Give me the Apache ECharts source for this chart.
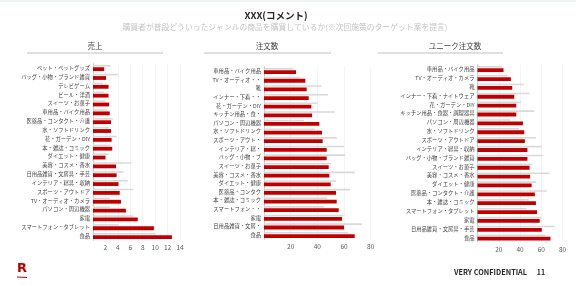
<!DOCTYPE html>
<html><head><meta charset="utf-8">
<script src="https://cdn.jsdelivr.net/npm/echarts@6/dist/echarts.min.js"></script>
<style>html,body{margin:0;padding:0;background:#fff}#c{width:576px;height:285px}</style>
</head><body><div id="c"></div>
<script>
const FONT = '"Noto Sans CJK JP","Noto Sans",sans-serif';

const salesCats = ['ペット・ペットグッズ','バッグ・小物・ブランド雑貨','テレビゲーム','ビール・洋酒','スイーツ・お菓子','車用品・バイク用品','医薬品・コンタクト・介護','水・ソフトドリンク','花・ガーデン・DIY','本・雑誌・コミック','ダイエット・健康','美容・コスメ・香水','日用品雑貨・文房具・手芸','インテリア・寝具・収納','スポーツ・アウトドア','TV・オーディオ・カメラ','パソコン・周辺機器','家電','スマートフォン・タブレット','食品'];
const salesRed  = [1.8, 2.1, 2.5, 2.5, 2.6, 2.7, 2.9, 2.9, 3.0, 3.1, 2.0, 3.7, 3.8, 4.1, 4.3, 4.5, 5.3, 7.2, 9.8, 12.7];
const salesGray = [2.8, 4.0, 1.6, 1.8, 2.0, 2.2, 3.2, 2.5, 3.8, 2.8, 2.5, 6.2, 4.9, 5.6, 6.5, 2.7, 2.7, 6.5, 4.1, 10.0];

const orderCats = ['車用品・バイク用品','TV・オーディオ・・','靴','インナー・下着・・','花・ガーデン・DIY','キッチン用品・食・','パソコン・周辺機器','水・ソフトドリンク','スポーツ・アウト・','インテリア・寝・','バッグ・小物・ブ','スイーツ・お菓子','美容・コスメ・香水','ダイエット・健康','医薬品・コンタク','本・雑誌・コミック','スマートフォン・・','家電','日用品雑貨・文房・','食品'];
const orderRed  = [24, 31, 32, 33.5, 35.5, 36, 41.5, 43.5, 44, 47, 47, 48.5, 49, 50, 54, 54.5, 56, 58.5, 60, 68];
const orderGray = [22, 27, 43, 48, 40, 53, 30, 38, 54.5, 60, 61, 50, 68, 54, 64.5, 47.5, 45, 59.5, 73.5, 63];

const uniqCats = ['車用品・バイク用品','TV・オーディオ・カメラ','靴','インナー・下着・ナイトウェア','花・ガーデン・DIY','キッチン用品・食器・調理器具','パソコン・周辺機器','水・ソフトドリンク','スポーツ・アウトドア','インテリア・寝具・収納','バッグ・小物・ブランド雑貨','スイーツ・お菓子','美容・コスメ・香水','ダイエット・健康','医薬品・コンタクト・介護','本・雑誌・コミック','スマートフォン・タブレット','家電','日用品雑貨・文房具・手芸','食品'];
const uniqRed  = [24.5, 31.4, 32.7, 34.6, 36.5, 36.5, 42.8, 44, 44.6, 47, 47, 49, 49.5, 51, 54, 55, 56, 58.6, 60.5, 68.7];
const uniqGray = [23, 28, 43.4, 49, 41, 53.5, 31, 39, 55, 60.6, 62, 51, 67.8, 55, 65, 48, 46, 60, 73, 64];

const salesTicks = {max: 14, interval: 2};
const orderTicks = {max: 80, interval: 20};

const RED = '#C00000', GRAY = '#D9D9D9';

function xAx(i, t) {
  return {gridIndex: i, type: 'value', min: 0, max: t.max, interval: t.interval,
    axisLine: {show: false}, axisTick: {show: false},
    axisLabel: {showMinLabel: false, fontSize: 6.5, color: '#595959', fontFamily: FONT, margin: 4},
    splitLine: {lineStyle: {color: '#EDEDED', width: 0.6}}};
}
function yAx(i, cats) {
  return {gridIndex: i, type: 'category', data: cats, inverse: true,
    axisLine: {lineStyle: {color: '#BFBFBF', width: 0.8}},
    axisTick: {length: 2, lineStyle: {color: '#BFBFBF', width: 0.6}},
    axisLabel: {fontSize: 5.3, color: '#404040', fontFamily: FONT, margin: 3}};
}
function pair(i, gray, red) {
  return [
    {type: 'bar', xAxisIndex: i, yAxisIndex: i, data: gray, barWidth: 1.6, barGap: '40%',
     itemStyle: {color: GRAY}, silent: true, animation: false},
    {type: 'bar', xAxisIndex: i, yAxisIndex: i, data: red, barWidth: 3.8, barGap: '40%',
     itemStyle: {color: RED}, silent: true, animation: false}
  ];
}

const chart = echarts.init(document.getElementById('c'), null, {renderer: 'canvas'});
chart.setOption({
  animation: false,
  textStyle: {fontFamily: FONT},
  grid: [
    {left: 93, top: 63.6, width: 87, height: 176.8},
    {left: 264, top: 66.7, width: 106.7, height: 172.6},
    {left: 477.5, top: 64.6, width: 85, height: 177.4}
  ],
  xAxis: [xAx(0, salesTicks), xAx(1, orderTicks), xAx(2, orderTicks)],
  yAxis: [yAx(0, salesCats), yAx(1, orderCats), yAx(2, uniqCats)],
  series: [].concat(pair(0, salesGray, salesRed), pair(1, orderGray, orderRed), pair(2, uniqGray, uniqRed)),
  graphic: [
    {type: 'rect', shape: {x: 0, y: 0, width: 576, height: 2}, style: {fill: '#EEF2F2'}},
    {type: 'text', x: 276, y: 15, style: {text: 'XXX(コメント)', font: 'bold 9.5px ' + FONT, fill: '#262626', align: 'center', verticalAlign: 'middle'}},
    {type: 'text', x: 285, y: 27, style: {text: '購買者が普段どういったジャンルの商品を購買しているか(※次回施策のターゲット案を提言)', font: '7.8px ' + FONT, fill: '#C4C4C4', align: 'center', verticalAlign: 'middle'}},
    {type: 'text', x: 95, y: 46.5, style: {text: '売上', font: '7.5px ' + FONT, fill: '#404040', align: 'center', verticalAlign: 'middle'}},
    {type: 'text', x: 267, y: 46.5, style: {text: '注文数', font: '7.5px ' + FONT, fill: '#404040', align: 'center', verticalAlign: 'middle'}},
    {type: 'text', x: 455, y: 46.5, style: {text: 'ユニーク注文数', font: '7.5px ' + FONT, fill: '#404040', align: 'center', verticalAlign: 'middle'}},
    {type: 'line', shape: {x1: 27, y1: 53, x2: 163, y2: 53}, style: {stroke: '#BFBFBF', lineWidth: 1}},
    {type: 'line', shape: {x1: 204, y1: 53, x2: 331, y2: 53}, style: {stroke: '#BFBFBF', lineWidth: 1}},
    {type: 'line', shape: {x1: 378, y1: 53, x2: 503, y2: 53}, style: {stroke: '#BFBFBF', lineWidth: 1}},
    {type: 'text', x: 22, y: 269, style: {text: 'R', font: 'bold 13px "DejaVu Sans",sans-serif', fill: '#BF0000', align: 'center', verticalAlign: 'middle'}},
    {type: 'line', shape: {x1: 17, y1: 277, x2: 27, y2: 277.5}, style: {stroke: '#BF0000', lineWidth: 1}},
    {type: 'text', x: 527, y: 272, style: {text: 'VERY CONFIDENTIAL', font: 'bold 7.3px ' + FONT, fill: '#262626', align: 'right', verticalAlign: 'middle'}},
    {type: 'text', x: 541, y: 272, style: {text: '11', font: 'bold 7px ' + FONT, fill: '#262626', align: 'center', verticalAlign: 'middle'}}
  ]
});
</script></body></html>
